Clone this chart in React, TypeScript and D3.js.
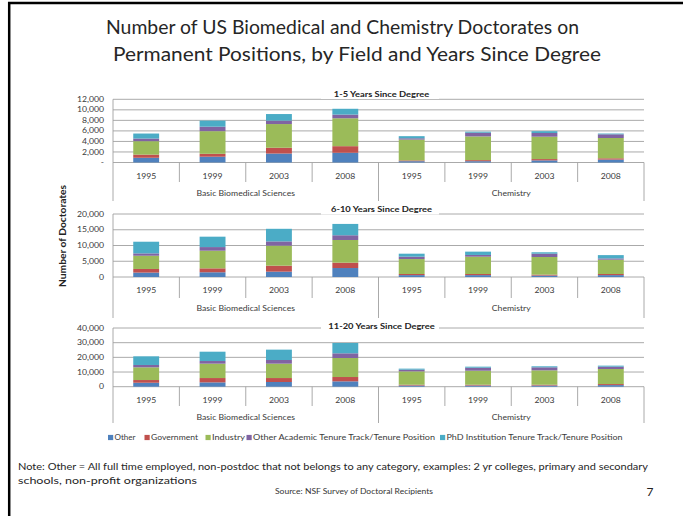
import React from "react";
import * as d3 from "d3";

// ---------- data ----------
const years = ["1995", "1999", "2003", "2008"];
const groups = ["Basic Biomedical Sciences", "Chemistry"];
const categories = groups.flatMap((g) => years.map((y) => `${g}|${y}`));
const seriesNames = [
  "Other",
  "Government",
  "Industry",
  "Other Academic Tenure Track/Tenure Position",
  "PhD Institution Tenure Track/Tenure Position",
];
const seriesColors = ["#4F81BD", "#C0504D", "#9BBB59", "#8064A2", "#4BACC6"];
const panelTitles = ["1-5 Years Since Degree", "6-10 Years Since Degree", "11-20 Years Since Degree"];
const panelMax = [12000, 20000, 40000];
const panelStep = [2000, 5000, 10000];

// 1-5 years since degree (BBS 1995..2008, Chem 1995..2008)
const other1 = [900, 1100, 1700, 1850, 250, 250, 400, 550];
const gov1 = [600, 550, 1100, 1250, 150, 200, 250, 250];
const ind1 = [2550, 4300, 4500, 5300, 3950, 4500, 4250, 3850];
const acad1 = [500, 850, 650, 700, 250, 700, 700, 700];
const phd1 = [950, 1150, 1250, 1100, 400, 200, 350, 150];

// 6-10 years since degree
const other2 = [1400, 1500, 1700, 2850, 600, 600, 450, 600];
const gov2 = [1150, 1250, 1900, 1700, 350, 350, 300, 350];
const ind2 = [4200, 5600, 6350, 7200, 4750, 5500, 5600, 4550];
const acad2 = [750, 1150, 1350, 1500, 750, 550, 1050, 400];
const phd2 = [3700, 3300, 4000, 3600, 950, 1050, 450, 1050];

// 11-20 years since degree
const other3 = [2700, 2950, 3200, 3650, 800, 800, 800, 1100];
const gov3 = [1850, 2950, 2700, 2950, 550, 550, 550, 700];
const ind3 = [8650, 9800, 9800, 12950, 9100, 9550, 9800, 10250];
const acad3 = [1600, 1800, 2500, 3200, 1150, 2050, 2050, 1600];
const phd3 = [5900, 6350, 7050, 7050, 700, 700, 700, 700];

const panelSeries = [
  [other1, gov1, ind1, acad1, phd1],
  [other2, gov2, ind2, acad2, phd2],
  [other3, gov3, ind3, acad3, phd3],
];

// ---------- layout ----------
const W = 683;
const H = 516;
const X0 = 113;
const X1 = 644;
const layout = [
  { top: 99.3, base: 162.5, titleY: 94, yearY: 176, groupY: 193.5, sepBottom: 182, groupBottom: 201 },
  { top: 214, base: 277, titleY: 209.5, yearY: 290.5, groupY: 308.5, sepBottom: 298, groupBottom: 318 },
  { top: 328, base: 386.7, titleY: 326.5, yearY: 400, groupY: 417.5, sepBottom: 406, groupBottom: 423 },
];
const FONT = "Lato, 'Open Sans', sans-serif";
const GRID = "#a0a0a0";
const TXT = "#3a3a3a";
const SX = 1.17; // horizontal stretch of the small chart text

const fmt = d3.format(",");

function SText(props: {
  x: number;
  y: number;
  size: number;
  anchor?: string;
  bold?: boolean;
  fill?: string;
  children: React.ReactNode;
}) {
  return (
    <text
      transform={`translate(${props.x},${props.y}) scale(${SX},1)`}
      dy="0.35em"
      textAnchor={props.anchor || "middle"}
      fontSize={props.size}
      fontWeight={props.bold ? "bold" : "normal"}
      fill={props.fill || TXT}
      fontFamily={FONT}
    >
      {props.children}
    </text>
  );
}

function Panel({ idx }: { idx: number }) {
  const L = layout[idx];
  const y = d3.scaleLinear().domain([0, panelMax[idx]]).range([L.base, L.top]);
  const xBar = d3.scaleBand<string>().domain(categories).range([X0, X1]).paddingInner(0.61).paddingOuter(0.305);
  const xCell = d3.scaleBand<string>().domain(categories).range([X0, X1]).padding(0);
  const ticks = d3.range(0, panelMax[idx] + 1, panelStep[idx]);
  const rows = categories.map((c, i) => {
    const r: any = { cat: c };
    seriesNames.forEach((s, k) => (r[s] = panelSeries[idx][k][i]));
    return r;
  });
  const stacked = d3.stack<any>().keys(seriesNames)(rows);
  const groupX = d3.scaleBand<string>().domain(groups).range([X0, X1]);
  return (
    <g>
      {ticks.map((t) => (
        <g key={t}>
          <line x1={X0} x2={X1} y1={y(t)} y2={y(t)} stroke={GRID} strokeWidth={0.9} />
          <SText x={104} y={y(t)} size={7.4} anchor="end">
            {t === 0 ? (idx === 0 ? "-" : "0") : fmt(t)}
          </SText>
        </g>
      ))}
      {/* subtitle with white background */}
      <rect x={321} y={L.titleY - 6} width={118} height={11} fill="#fff" />
      <SText x={381.5} y={L.titleY} size={8} bold fill="#222">
        {panelTitles[idx]}
      </SText>
      {stacked.map((s, k) => (
        <g key={s.key} fill={seriesColors[k]}>
          {s.map((d, i) => (
            <rect
              key={i}
              x={xBar(categories[i])}
              y={y(d[1])}
              width={xBar.bandwidth()}
              height={Math.max(0, y(d[0]) - y(d[1]))}
            />
          ))}
        </g>
      ))}
      {/* category axis */}
      {categories.map((c, i) => {
        const left = xCell(c)!;
        const isGroupEdge = i % years.length === 0;
        return (
          <line
            key={"s" + i}
            x1={left}
            x2={left}
            y1={i === 0 ? L.top : L.base}
            y2={isGroupEdge ? L.groupBottom : L.sepBottom}
            stroke={GRID}
            strokeWidth={0.9}
          />
        );
      })}
      <line x1={X1} x2={X1} y1={L.base} y2={L.groupBottom} stroke={GRID} strokeWidth={0.9} />
      {categories.map((c, i) => (
        <SText key={"y" + i} x={xCell(c)! + xCell.bandwidth() / 2} y={L.yearY} size={7.4}>
          {years[i % years.length]}
        </SText>
      ))}
      {groups.map((g) => (
        <SText key={g} x={groupX(g)! + groupX.bandwidth() / 2} y={L.groupY} size={7.4}>
          {g}
        </SText>
      ))}
    </g>
  );
}

function Legend() {
  const squares = [108, 144.5, 205.5, 246.5, 440];
  const textLens = [21, 47, 33, 182, 176];
  return (
    <g>
      {seriesNames.map((s, k) => (
        <g key={s} transform={`translate(${squares[k]},437.5)`}>
          <rect x={0} y={-2.6} width={5.2} height={5.2} fill={seriesColors[k]} />
          <text
            x={6.5}
            y={0}
            dy="0.35em"
            fontSize={7.4}
            fill={TXT}
            fontFamily={FONT}
            textLength={textLens[k]}
            lengthAdjust="spacingAndGlyphs"
          >
            {s}
          </text>
        </g>
      ))}
    </g>
  );
}

export default function App() {
  return (
    <svg
      width={W}
      height={H}
      viewBox={`0 0 ${W} ${H}`}
      style={{ position: "absolute", left: 0, top: 0, background: "#fff" }}
    >
      <rect x={0} y={0} width={W} height={H} fill="#fff" />
      {/* slide frame */}
      <line x1={8} x2={W} y1={3} y2={3} stroke="#000" strokeWidth={2.5} />
      <line x1={9.2} x2={9.2} y1={2} y2={H} stroke="#000" strokeWidth={2.5} />
      <text x={106} y={34} fontSize={19.5} fill="#262626" fontFamily={FONT} textLength={473} lengthAdjust="spacingAndGlyphs">
        Number of US Biomedical and Chemistry Doctorates on
      </text>
      <text x={113} y={61} fontSize={19.5} fill="#262626" fontFamily={FONT} textLength={488} lengthAdjust="spacingAndGlyphs">
        Permanent Positions, by Field and Years Since Degree
      </text>
      {[0, 1, 2].map((i) => (
        <Panel key={i} idx={i} />
      ))}
      <text
        transform="translate(63,236) rotate(-90)"
        textAnchor="middle"
        dy="0.35em"
        fontSize={8.6}
        fontWeight="bold"
        fill="#222"
        fontFamily={FONT}
        textLength={102}
        lengthAdjust="spacingAndGlyphs"
      >
        Number of Doctorates
      </text>
      <Legend />
      <text x={18} y={470} fontSize={10.2} fill="#262626" fontFamily={FONT} textLength={630} lengthAdjust="spacingAndGlyphs">
        Note: Other = All full time employed, non-postdoc  that not belongs to any category, examples: 2 yr colleges, primary and secondary
      </text>
      <text x={18} y={484} fontSize={10.2} fill="#262626" fontFamily={FONT} textLength={179} lengthAdjust="spacingAndGlyphs">
        schools, non-profit organizations
      </text>
      <text x={275} y={494} fontSize={7.2} fill="#333" fontFamily={FONT} textLength={158} lengthAdjust="spacingAndGlyphs">
        Source: NSF Survey of Doctoral Recipients
      </text>
      <text x={650} y={496} textAnchor="middle" fontSize={12} fill="#222" fontFamily={FONT}>
        7
      </text>
    </svg>
  );
}
